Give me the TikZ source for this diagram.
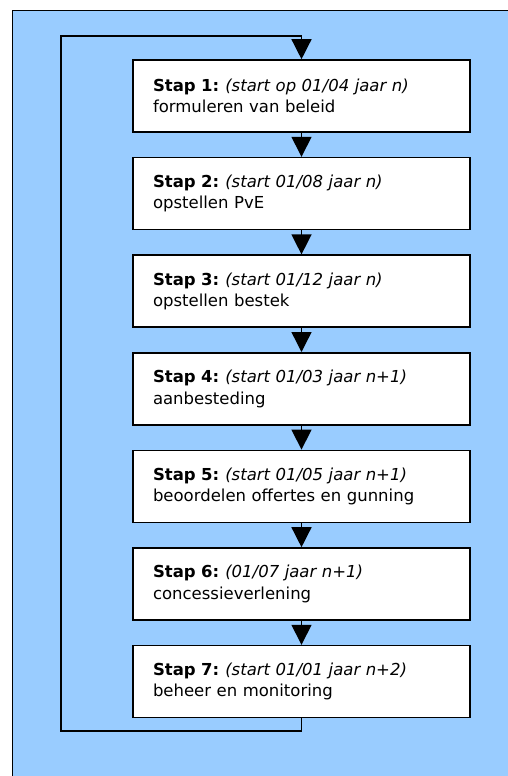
\documentclass[tikz,border=0pt]{standalone}
\usepackage{fontspec}
\setmainfont{DejaVu Sans}
\usetikzlibrary{positioning,arrows.meta}

\definecolor{panelblue}{HTML}{99CCFF}

% heading of one step: bold number, italic date
\newcommand{\stapkop}[2]{\textbf{Stap #1:}\hspace{6pt}\textit{(#2)}}

\tikzset{
  stepbox/.style={draw=black, line width=1.6pt, fill=white,
    text width=297pt, inner xsep=20pt, inner ysep=0pt,
    minimum height=72pt, align=left,
    font=\fontsize{16.5}{21.5}\selectfont},
  flowline/.style={line width=1.4pt, -{Triangle[width=20pt,length=20pt]}}
}

\begin{document}
\begin{tikzpicture}[x=1pt, y=1pt]

% page frame and blue panel (runs off the right and bottom edge)
\useasboundingbox (0,0) rectangle (508,-776);
\clip (0,0) rectangle (508,-776);
\draw[fill=panelblue, line width=1.2pt] (12.5,-10.5) rectangle (540,-800);

% the seven steps
\node[stepbox] (s1) at (301.5,-96)
  {\stapkop{1}{start op 01/04 jaar n}\\formuleren van beleid};
\node[stepbox, below=24pt of s1] (s2)
  {\stapkop{2}{start 01/08 jaar n}\\opstellen PvE};
\node[stepbox, below=24pt of s2] (s3)
  {\stapkop{3}{start 01/12 jaar n}\\opstellen bestek};
\node[stepbox, below=24pt of s3] (s4)
  {\stapkop{4}{start 01/03 jaar n+1}\\aanbesteding};
\node[stepbox, below=24pt of s4] (s5)
  {\stapkop{5}{start 01/05 jaar n+1}\\beoordelen offertes en gunning};
\node[stepbox, below=24pt of s5] (s6)
  {\stapkop{6}{01/07 jaar n+1}\\concessieverlening};
\node[stepbox, below=24pt of s6] (s7)
  {\stapkop{7}{start 01/01 jaar n+2}\\beheer en monitoring};

% arrows between consecutive steps
\foreach \i [evaluate=\i as \j using int(\i+1)] in {1,...,6}
  \draw[flowline] (s\i.south) -- (s\j.north);

% feedback loop from step 7 back to step 1
\coordinate (loopbl) at (61,-731);
\coordinate (looptl) at (61,-36);
\draw[flowline] (s7.south) |- (loopbl) -- (looptl) -| (s1.north);

\end{tikzpicture}
\end{document}
